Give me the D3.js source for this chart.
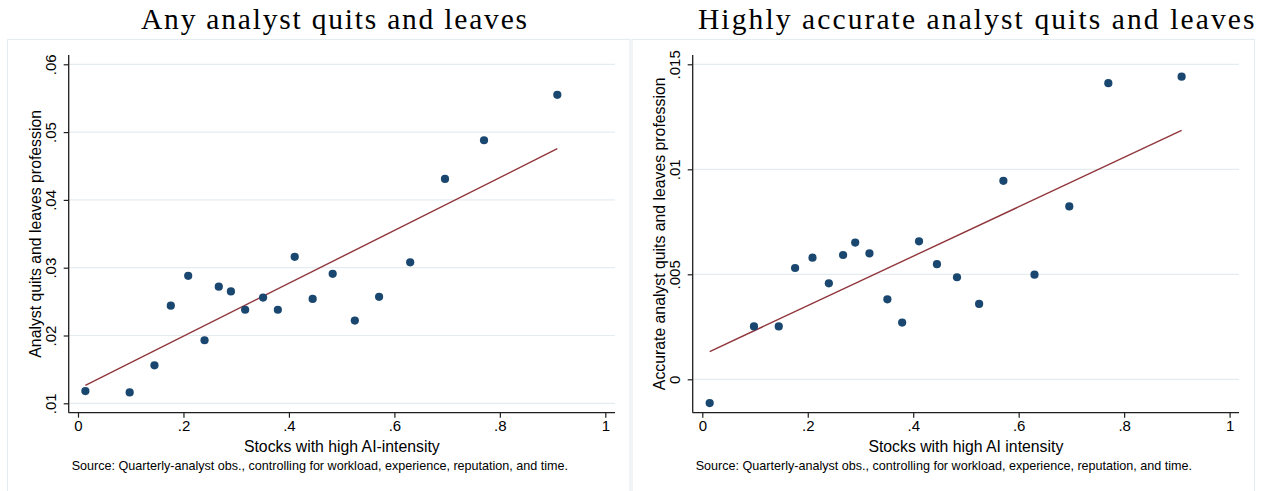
<!DOCTYPE html>
<html>
<head>
<meta charset="utf-8">
<script src="https://cdn.jsdelivr.net/npm/d3@7"></script>
<style>
  html, body { margin: 0; padding: 0; background: #ffffff; }
  svg { display: block; }
</style>
</head>
<body>
<svg id="chart" width="1263" height="491"></svg>
<script>
// ---------- data ----------
const xBins = [0.014, 0.098, 0.145, 0.176, 0.209, 0.240, 0.267, 0.290, 0.317, 0.351,
               0.379, 0.411, 0.445, 0.483, 0.525, 0.571, 0.630, 0.696, 0.770, 0.909];
const anyQuit = [0.0118, 0.0116, 0.0156, 0.0244, 0.0288, 0.0193, 0.0272, 0.0265, 0.0238, 0.0256,
                 0.0238, 0.0316, 0.0254, 0.0291, 0.0222, 0.0257, 0.0308, 0.0431, 0.0488, 0.0555];
const accQuit = [-0.00113, 0.00252, 0.00252, 0.00530, 0.00579, 0.00457, 0.00592, 0.00651, 0.00600, 0.00381,
                 0.00270, 0.00657, 0.00548, 0.00486, 0.00359, 0.00945, 0.00498, 0.00823, 0.01410, 0.01441];
const fitX = [0.014, 0.909];
const anyFitY = [0.01265, 0.04755];
const accFitY = [0.00132, 0.01185];

const xTicks = [0, 0.2, 0.4, 0.6, 0.8, 1];
const anyYTicks = [0.01, 0.02, 0.03, 0.04, 0.05, 0.06];
const accYTicks = [0, 0.005, 0.01, 0.015];

const titles = ["Any analyst quits and leaves", "Highly accurate analyst quits and leaves"];
const yTitles = ["Analyst quits and leaves profession", "Accurate analyst quits and leaves profession"];
const xTitles = ["Stocks with high AI-intensity", "Stocks with high AI intensity"];
const sourceNote = "Source: Quarterly-analyst obs., controlling for workload, experience, reputation, and time.";

// ---------- styling / layout ----------
const NAVY = "#1a476f", MAROON = "#90353b", GRID = "#e4ecf0", BORDER = "#e6edf0", AXIS = "#1e1e1e";
const SANS = "'Liberation Sans', Arial, Helvetica, sans-serif";
const SERIF = "'Liberation Serif', 'Times New Roman', serif";

const fmt = d => d === 0 ? "0" : d === 1 ? "1" : String(d).replace(/^0/, "");

const svg = d3.select("#chart");
svg.append("rect").attr("width", 1263).attr("height", 491).attr("fill", "#fff");

const panels = [
  { box: [7.5, 630], plotL: 68.7, plotR: 615, x0: 78, x1: 605.3,
    yDomain: [0.01, 0.06], yRange: [403.3, 64.3], yTicks: anyYTicks, ys: anyQuit, fitY: anyFitY,
    title: titles[0], titleCx: 334, titleW: 386, yTitle: yTitles[0], xTitle: xTitles[0] },
  { box: [632, 1254.5], plotL: 692.7, plotR: 1239, x0: 702.3, x1: 1229.6,
    yDomain: [0, 0.015], yRange: [379.3, 64.3], yTicks: accYTicks, ys: accQuit, fitY: accFitY,
    title: titles[1], titleCx: 976.2, titleW: 556.5, yTitle: yTitles[1], xTitle: xTitles[1] }
];
const plotTop = 55, plotBottom = 412.7;

function fitWidth(textSel, target) {
  const w = textSel.node().getComputedTextLength();
  const fs = parseFloat(textSel.attr("font-size"));
  textSel.attr("font-size", (fs * target / w).toFixed(2));
}

panels.forEach(p => {
  const g = svg.append("g");
  // panel border
  g.append("rect")
    .attr("x", p.box[0]).attr("y", 39.5)
    .attr("width", p.box[1] - p.box[0]).attr("height", 470)
    .attr("fill", "#fff").attr("stroke", BORDER).attr("stroke-width", 1.2);

  const x = d3.scaleLinear().domain([0, 1]).range([p.x0, p.x1]);
  const y = d3.scaleLinear().domain(p.yDomain).range(p.yRange);

  // gridlines
  g.append("g").selectAll("line").data(p.yTicks).join("line")
    .attr("x1", p.plotL).attr("x2", p.plotR)
    .attr("y1", d => y(d)).attr("y2", d => y(d))
    .attr("stroke", GRID).attr("stroke-width", 1.2);

  // x axis
  const xa = g.append("g").attr("transform", `translate(0,${plotBottom})`)
    .call(d3.axisBottom(x).tickValues(xTicks).tickFormat(fmt).tickSize(5).tickSizeOuter(0));
  xa.select(".domain").remove();
  xa.selectAll(".tick line").attr("stroke", AXIS).attr("stroke-width", 1.2);
  xa.selectAll(".tick text").attr("font-family", SANS).attr("font-size", 15)
    .attr("fill", "#000").attr("y", 8).attr("dy", "0.71em");
  g.append("line").attr("x1", p.plotL).attr("x2", p.plotR)
    .attr("y1", plotBottom).attr("y2", plotBottom)
    .attr("stroke", AXIS).attr("stroke-width", 1.3);

  // y axis
  const ya = g.append("g").attr("transform", `translate(${p.plotL},0)`)
    .call(d3.axisLeft(y).tickValues(p.yTicks).tickFormat(fmt).tickSize(5).tickSizeOuter(0));
  ya.select(".domain").remove();
  ya.selectAll(".tick line").attr("stroke", AXIS).attr("stroke-width", 1.2);
  ya.selectAll(".tick text").attr("font-family", SANS).attr("font-size", 15).attr("fill", "#000")
    .attr("transform", "rotate(-90)").attr("x", 0).attr("y", -12.5).attr("dy", 0)
    .attr("text-anchor", "middle");
  g.append("line").attr("x1", p.plotL).attr("x2", p.plotL)
    .attr("y1", plotTop).attr("y2", plotBottom)
    .attr("stroke", AXIS).attr("stroke-width", 1.3);

  // fit line
  g.append("path")
    .datum(fitX.map((d, i) => [d, p.fitY[i]]))
    .attr("d", d3.line().x(d => x(d[0])).y(d => y(d[1])))
    .attr("fill", "none").attr("stroke", MAROON).attr("stroke-width", 1.4);

  // points
  g.append("g").selectAll("circle").data(xBins.map((d, i) => [d, p.ys[i]])).join("circle")
    .attr("cx", d => x(d[0])).attr("cy", d => y(d[1])).attr("r", 4.1)
    .attr("fill", NAVY);

  // titles (fixed size, letter spacing adjusted to match the reference width)
  g.append("text").text(p.title)
    .attr("x", p.titleCx).attr("y", 29).attr("text-anchor", "middle")
    .attr("font-family", SERIF).attr("font-size", 29.5).attr("fill", "#000")
    .attr("textLength", p.titleW).attr("lengthAdjust", "spacing");

  g.append("text").text(p.yTitle)
    .attr("transform", `translate(${p.plotL - 28},${(plotTop + plotBottom) / 2}) rotate(-90)`)
    .attr("text-anchor", "middle").attr("font-family", SANS).attr("font-size", 15.8).attr("fill", "#000");

  g.append("text").text(p.xTitle)
    .attr("x", (p.plotL + p.plotR) / 2).attr("y", 451.7).attr("text-anchor", "middle")
    .attr("font-family", SANS).attr("font-size", 15.8).attr("fill", "#000");

  const s = g.append("text").text(sourceNote)
    .attr("x", p.plotL + 3).attr("y", 470)
    .attr("font-family", SANS).attr("font-size", 12).attr("fill", "#000");
  fitWidth(s, 496.7);
});
</script>
</body>
</html>
